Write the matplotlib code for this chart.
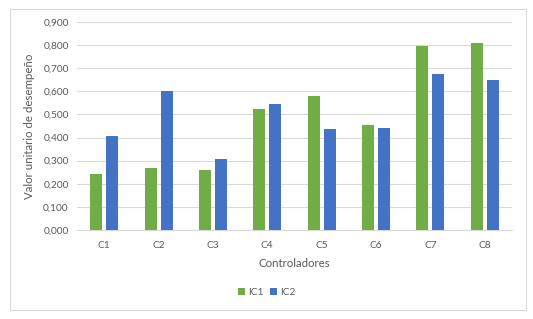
import numpy as np
import matplotlib
matplotlib.use("Agg")
import matplotlib.pyplot as plt
from matplotlib.ticker import FuncFormatter

categories = ["C1", "C2", "C3", "C4", "C5", "C6", "C7", "C8"]
ic1 = [0.241, 0.268, 0.261, 0.525, 0.578, 0.453, 0.797, 0.808]
ic2 = [0.407, 0.603, 0.306, 0.544, 0.436, 0.440, 0.676, 0.650]

plt.rcParams['font.family'] = ['Lato', 'DejaVu Sans']
txt = '#595959'

fig = plt.figure(figsize=(5.33, 3.19), dpi=100)
ax = fig.add_axes([0.1445, 0.279, 0.816, 0.652])

x = np.arange(len(categories))
w = 0.22
ax.bar(x - 0.147, ic1, w, color='#70AD47', label='IC1', zorder=3)
ax.bar(x + 0.147, ic2, w, color='#4472C4', label='IC2', zorder=3)

ax.set_xlim(-0.5, len(categories) - 0.5)
ax.set_ylim(0, 0.9)
ax.set_yticks(np.arange(0, 0.901, 0.1))
ax.yaxis.set_major_formatter(FuncFormatter(lambda v, p: f"{v:.3f}".replace('.', ',')))
ax.set_xticks(x)
ax.set_xticklabels(categories)
ax.grid(axis='y', color='#D9D9D9', linewidth=0.8, zorder=0)
for s in ['top', 'right', 'left']:
    ax.spines[s].set_visible(False)
ax.spines['bottom'].set_color('#D9D9D9')
ax.tick_params(length=0, labelsize=7.3, colors=txt, pad=8)
ax.tick_params(axis='y', pad=6)

ax.set_xlabel("Controladores", fontsize=8.3, color=txt, labelpad=6)
ax.set_ylabel("Valor unitario de desempeño", fontsize=8.3, color=txt, labelpad=6)

fig.legend(loc='center', bbox_to_anchor=(0.5, 0.082), ncol=2, frameon=False,
           fontsize=7.3, labelcolor=txt, handlelength=0.7, handleheight=0.7,
           handletextpad=0.3, columnspacing=0.6)

border = plt.Rectangle((0.018, 0.028), 0.968, 0.944, transform=fig.transFigure,
                       fill=False, edgecolor='#D9D9D9', linewidth=0.8)
fig.add_artist(border)

plt.savefig("out.png", dpi=100)
